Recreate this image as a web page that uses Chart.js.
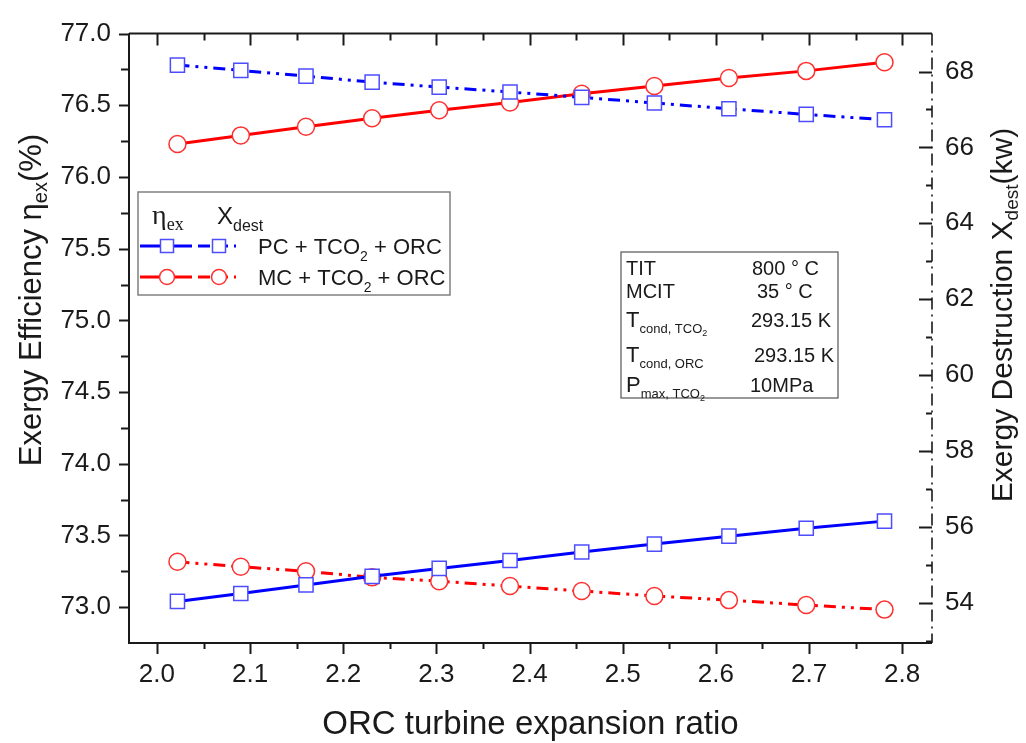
<!DOCTYPE html>
<html>
<head>
<meta charset="utf-8">
<script src="https://cdn.jsdelivr.net/npm/chart.js@4.4.1/dist/chart.umd.min.js"></script>
<style>
  html, body { margin: 0; padding: 0; background: #fff; }
  #grafico { display: block; }
</style>
</head>
<body>
<canvas id="grafico" width="1026" height="743"></canvas>
<script>
// values
const expansionRatio = [2.022, 2.090, 2.160, 2.231, 2.303, 2.379, 2.456, 2.534, 2.614, 2.697, 2.781];
const effPC = [73.04, 73.095, 73.155, 73.215, 73.27, 73.325, 73.385, 73.44, 73.495, 73.55, 73.60];
const effMC = [76.23, 76.29, 76.35, 76.41, 76.465, 76.52, 76.58, 76.635, 76.69, 76.74, 76.80];
const destPC = [68.17, 68.03, 67.88, 67.72, 67.59, 67.46, 67.32, 67.17, 67.02, 66.87, 66.73];
const destMC = [55.08, 54.95, 54.83, 54.67, 54.57, 54.44, 54.31, 54.18, 54.07, 53.94, 53.82];

const xTicks = [2.0, 2.1, 2.2, 2.3, 2.4, 2.5, 2.6, 2.7, 2.8];
const effTicks = [73.0, 73.5, 74.0, 74.5, 75.0, 75.5, 76.0, 76.5, 77.0];
const destTicks = [54, 56, 58, 60, 62, 64, 66, 68];

const SANS = '"Liberation Sans", Arial, sans-serif';
const SERIF = '"Liberation Serif", "Times New Roman", serif';
const INK = '#1a1a1a';
const BLUE = '#0000ff';
const RED = '#ff0000';
const DASH_DOT = [12, 6, 3, 6, 3, 6];

function puntos(ys) {
  return expansionRatio.map((x, i) => ({ x, y: ys[i] }));
}

// pieces: [text, size, dy, font]
function anchoPiezas(ctx, piezas) {
  let w = 0;
  piezas.forEach(([t, size, dy, font]) => {
    ctx.font = size + 'px ' + (font || SANS);
    w += ctx.measureText(t).width;
  });
  return w;
}

function texto(ctx, piezas, x, y) {
  piezas.forEach(([t, size, dy, font]) => {
    ctx.font = size + 'px ' + (font || SANS);
    ctx.fillText(t, x, y + (dy || 0));
    x += ctx.measureText(t).width;
  });
  return x;
}

function menores(ticks, scale) {
  const paso = ticks[1] - ticks[0];
  const lista = [];
  for (let v = ticks[0] - paso / 2; v < scale.max; v += paso) {
    if (v > scale.min + 1e-6 && v < scale.max - 1e-6) lista.push(v);
  }
  return lista;
}

function marcas(ctx, scale, valores, lado, largo) {
  const a = scale.chart.chartArea;
  ctx.beginPath();
  valores.forEach(v => {
    const p = Math.round(scale.getPixelForValue(v)) + 0.5;
    if (lado === 'bottom') { ctx.moveTo(p, a.bottom); ctx.lineTo(p, a.bottom + largo); }
    if (lado === 'top') { ctx.moveTo(p, a.top); ctx.lineTo(p, a.top + largo); }
    if (lado === 'left') { ctx.moveTo(a.left - largo, p); ctx.lineTo(a.left, p); }
    if (lado === 'right') { ctx.moveTo(a.right - largo, p); ctx.lineTo(a.right, p); }
  });
  ctx.stroke();
}

const marco = {
  id: 'marco',
  afterDraw(chart) {
    const ctx = chart.ctx;
    const a = chart.chartArea;
    const sx = chart.scales.x, sy = chart.scales.y, sy2 = chart.scales.y2;
    ctx.save();
    ctx.strokeStyle = INK;
    ctx.lineWidth = 2;
    ctx.beginPath();
    ctx.moveTo(a.left, a.top); ctx.lineTo(a.right, a.top);
    ctx.moveTo(a.left, a.top); ctx.lineTo(a.left, a.bottom);
    ctx.lineTo(a.right, a.bottom);
    ctx.stroke();

    // right axis is dash-dot
    ctx.setLineDash([12, 5, 2, 5]);
    ctx.lineWidth = 1.6;
    ctx.beginPath();
    ctx.moveTo(a.right, a.top); ctx.lineTo(a.right, a.bottom);
    ctx.stroke();
    ctx.setLineDash([]);

    ctx.lineWidth = 2;
    marcas(ctx, sx, xTicks, 'bottom', 11);
    marcas(ctx, sx, menores(xTicks, sx), 'bottom', 6);
    marcas(ctx, sx, xTicks, 'top', 12);
    marcas(ctx, sx, menores(xTicks, sx), 'top', 7);
    marcas(ctx, sy, effTicks, 'left', 10);
    marcas(ctx, sy, menores(effTicks, sy), 'left', 8);
    marcas(ctx, sy2, destTicks, 'right', 13);
    marcas(ctx, sy2, menores(destTicks, sy2), 'right', 6);

    // axis titles
    ctx.fillStyle = INK;
    ctx.textBaseline = 'alphabetic';
    ctx.textAlign = 'left';
    const tx = [['ORC turbine expansion ratio', 33]];
    texto(ctx, tx, (a.left + a.right) / 2 - anchoPiezas(ctx, tx) / 2, 734);

    const ty = [['Exergy Efficiency \u03b7', 31], ['ex', 20, 6], ['(%)', 31]];
    ctx.save();
    ctx.translate(30, 300);
    ctx.rotate(-Math.PI / 2);
    texto(ctx, ty, -anchoPiezas(ctx, ty) / 2, 11);
    ctx.restore();

    const ty2 = [['Exergy Destruction X', 30], ['dest', 19, 6], ['(kw)', 30]];
    ctx.save();
    ctx.translate(1001, 315);
    ctx.rotate(-Math.PI / 2);
    texto(ctx, ty2, -anchoPiezas(ctx, ty2) / 2, 11);
    ctx.restore();

    leyenda(ctx, chart);
    cuadroDatos(ctx);
    ctx.restore();
  }
};

function muestra(ctx, ds, x0, x1, y, xm) {
  ctx.save();
  ctx.strokeStyle = ds.borderColor;
  ctx.lineWidth = ds.borderWidth;
  ctx.setLineDash(ds.borderDash || []);
  ctx.beginPath();
  ctx.moveTo(x0, y); ctx.lineTo(x1, y);
  ctx.stroke();
  ctx.setLineDash([]);
  ctx.fillStyle = '#fff';
  ctx.strokeStyle = ds.pointBorderColor;
  ctx.lineWidth = ds.pointBorderWidth;
  ctx.beginPath();
  if (ds.pointStyle === 'rect') {
    ctx.rect(xm - 6.5, y - 6.5, 13, 13);
  } else {
    ctx.arc(xm, y, 7.5, 0, Math.PI * 2);
  }
  ctx.fill();
  ctx.stroke();
  ctx.restore();
}

function leyenda(ctx, chart) {
  const ds = chart.data.datasets;
  ctx.save();
  ctx.fillStyle = '#fff';
  ctx.fillRect(138, 192, 312, 103);
  ctx.strokeStyle = '#808080';
  ctx.lineWidth = 1.5;
  ctx.strokeRect(138, 192, 312, 103);

  ctx.fillStyle = INK;
  texto(ctx, [['\u03b7', 28, 0, SERIF], ['ex', 18, 6, SERIF]], 152, 224);
  texto(ctx, [['X', 24], ['dest', 16, 7]], 217, 224);

  const filas = [
    { y: 246, eff: ds[0], dest: ds[1], label: [['PC + TCO', 22], ['2', 14, 7], [' + ORC', 22]] },
    { y: 277, eff: ds[2], dest: ds[3], label: [['MC + TCO', 22], ['2', 14, 7], [' + ORC', 22]] }
  ];
  filas.forEach(f => {
    muestra(ctx, f.eff, 140, 192, f.y, 167);
    muestra(ctx, f.dest, 198, 236, f.y, 219);
    ctx.fillStyle = INK;
    texto(ctx, f.label, 258, f.y + 8);
  });
  ctx.restore();
}

function cuadroDatos(ctx) {
  ctx.save();
  ctx.fillStyle = '#fff';
  ctx.fillRect(621, 252, 217, 146);
  ctx.strokeStyle = '#555';
  ctx.lineWidth = 1.2;
  ctx.strokeRect(621, 252, 217, 146);
  ctx.fillStyle = INK;
  const filas = [
    { y: 275, nombre: [['TIT', 20]], valor: '800 \u00b0 C', vx: 752 },
    { y: 298, nombre: [['MCIT', 20]], valor: '35 \u00b0 C', vx: 757 },
    { y: 327, nombre: [['T', 22], ['cond, TCO', 13, 6], ['2', 9, 9]], valor: '293.15 K', vx: 751 },
    { y: 362, nombre: [['T', 22], ['cond, ORC', 13, 6]], valor: '293.15 K', vx: 754 },
    { y: 392, nombre: [['P', 22], ['max, TCO', 13, 6], ['2', 9, 9]], valor: '10MPa', vx: 750 }
  ];
  filas.forEach(f => {
    texto(ctx, f.nombre, 626, f.y);
    texto(ctx, [[f.valor, 20]], f.vx, f.y);
  });
  ctx.restore();
}

function serie(ys, color, eje, estilo, discontinua) {
  return {
    data: puntos(ys),
    yAxisID: eje,
    borderColor: color,
    borderWidth: 3,
    borderDash: discontinua ? DASH_DOT : [],
    pointStyle: estilo,
    pointRadius: estilo === 'rect' ? 10 : 8.5,
    pointBorderWidth: 1.5,
    pointBorderColor: color === BLUE ? '#4d4dff' : '#ff3030',
    pointBackgroundColor: '#fff',
    tension: 0,
    fill: false
  };
}

function ticksFijos(lista) {
  return scale => { scale.ticks = lista.map(v => ({ value: v })); };
}

const ctx = document.getElementById('grafico').getContext('2d');
new Chart(ctx, {
  type: 'line',
  data: {
    datasets: [
      serie(effPC, BLUE, 'y', 'rect', false),
      serie(destPC, BLUE, 'y2', 'rect', true),
      serie(effMC, RED, 'y', 'circle', false),
      serie(destMC, RED, 'y2', 'circle', true)
    ]
  },
  options: {
    responsive: false,
    animation: false,
    devicePixelRatio: 1,
    layout: { padding: { top: 21, left: 0, right: 0, bottom: 0 } },
    plugins: { legend: { display: false }, tooltip: { enabled: false } },
    scales: {
      x: {
        type: 'linear',
        min: 1.97,
        max: 2.832,
        afterBuildTicks: ticksFijos(xTicks),
        afterFit: s => { s.height = 100; },
        grid: { display: false, drawTicks: false },
        border: { display: false },
        ticks: {
          padding: 16,
          color: INK,
          font: { family: SANS, size: 26 },
          callback: v => v.toFixed(1)
        }
      },
      y: {
        position: 'left',
        min: 72.75,
        max: 77.0,
        afterBuildTicks: ticksFijos(effTicks),
        afterFit: s => { s.width = 129; },
        grid: { display: false, drawTicks: false },
        border: { display: false },
        ticks: {
          padding: 18,
          color: INK,
          font: { family: SANS, size: 26 },
          callback: v => v.toFixed(1)
        }
      },
      y2: {
        position: 'right',
        min: 52.94,
        max: 69.0,
        afterBuildTicks: ticksFijos(destTicks),
        afterFit: s => { s.width = 94; },
        grid: { display: false, drawTicks: false },
        border: { display: false },
        ticks: {
          padding: 13,
          color: INK,
          font: { family: SANS, size: 26 },
          callback: v => String(v)
        }
      }
    }
  },
  plugins: [marco]
});
</script>
</body>
</html>
